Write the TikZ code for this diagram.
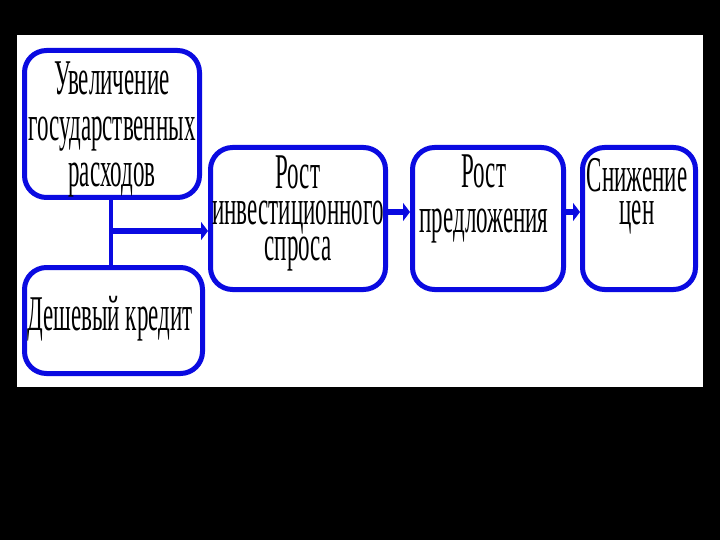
\documentclass[tikz,border=0pt]{standalone}
\usepackage{fontspec}
\usetikzlibrary{arrows.meta,calc}
\newfontfamily\cf[FakeStretch=0.46]{Liberation Serif}
\definecolor{boxblue}{RGB}{10,10,225}
\tikzset{
  box/.style={draw=boxblue, line width=5pt, rounded corners=22pt, fill=white, inner sep=0pt},
  txt/.style={align=center, anchor=base, inner sep=0pt, text=black},
  conn/.style={draw=boxblue, line width=6pt},
  arr/.style={draw=boxblue, line width=6pt, -{Triangle[length=7pt,width=18pt]}},
}
\begin{document}
\begin{tikzpicture}[x=1pt,y=-1pt]
\fill[black] (0,0) rectangle (720,540);
\useasboundingbox (0,0) rectangle (720,540);
\fill[white] (17,35) rectangle (703,387);
% boxes
\node[box, minimum width=175pt, minimum height=147pt] (b1) at (112,124) {};
\node[box, minimum width=178pt, minimum height=106pt] (b2) at (113.5,320.5) {};
\node[box, minimum width=175pt, minimum height=142pt] (b3) at (298,218.5) {};
\node[box, minimum width=151pt, minimum height=142pt] (b4) at (488,218.5) {};
\node[box, minimum width=113pt, minimum height=142pt] (b5) at (639,218.5) {};
% texts (anchor = baseline of last line)
\node[txt, font=\cf\fontsize{50}{46}\selectfont] (t1) at (112,187) {Увеличение\\государственных\\расходов};
\node[txt, font=\cf\fontsize{50}{46}\selectfont] (t2) at (110,330) {Дешевый кредит};
\node[txt, font=\cf\fontsize{50}{36}\selectfont] (t3) at (298,260) {Рост\\инвестиционного\\спроса};
\node[txt, font=\cf\fontsize{50}{45}\selectfont] (t4) at (484,233) {Рост\\предложения};
\node[txt, font=\cf\fontsize{50}{33}\selectfont] (t5) at (637,225) {Снижение\\цен};
% connectors
\coordinate (j) at (111,231);
\draw[draw=boxblue, line width=3.5pt] (b1.south -| j) -- (b2.north -| j);
\draw[arr] (j) -- (b3.west |- j);
\draw[arr] (b3.east |- 0,212) -- (b4.west |- 0,212);
\draw[arr] (b4.east |- 0,212) -- (b5.west |- 0,212);
\end{tikzpicture}
\end{document}
